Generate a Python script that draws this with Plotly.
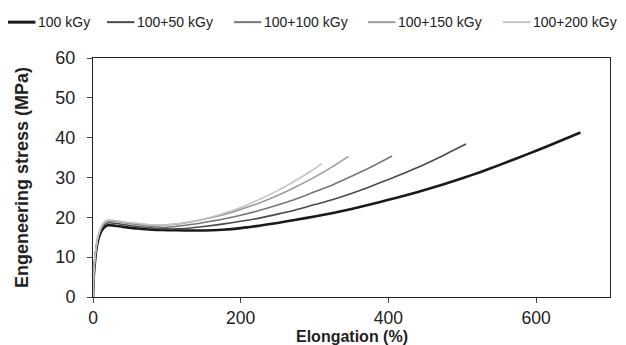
import plotly.graph_objects as go

# Elongation (%) and engineering stress (MPa)
x_100 = [0, 1, 3, 6, 10, 15, 20, 30, 40, 60, 80, 100, 125, 150, 175, 200, 225, 250, 275, 300,
         325, 350, 375, 400, 425, 450, 475, 500, 525, 550, 575, 600, 625, 660]
y_100 = [0, 5, 9.5, 13.5, 16.0, 17.4, 18.0, 17.9, 17.6, 17.2, 16.9, 16.8, 16.7, 16.7, 16.9, 17.3,
         17.9, 18.6, 19.4, 20.2, 21.1, 22.1, 23.2, 24.4, 25.6, 26.9, 28.3, 29.8, 31.4, 33.1,
         34.9, 36.7, 38.6, 41.3]

x_150 = [0, 1, 3, 6, 10, 15, 20, 30, 40, 60, 80, 100, 125, 150, 175, 200, 225, 250, 275, 300,
         325, 350, 375, 400, 425, 450, 475, 505]
y_150 = [0, 5.5, 10, 14, 16.5, 18.0, 18.6, 18.5, 18.2, 17.7, 17.3, 17.1, 17.2, 17.7, 18.3, 19.0,
         19.8, 20.8, 21.9, 23.2, 24.5, 26.0, 27.7, 29.5, 31.4, 33.4, 35.6, 38.4]

x_200 = [0, 1, 3, 6, 10, 15, 20, 30, 40, 60, 80, 100, 125, 150, 175, 200, 225, 250, 275, 300,
         325, 350, 375, 405]
y_200 = [0, 6, 10.5, 14.5, 17.0, 18.6, 19.1, 19.0, 18.7, 18.2, 17.7, 17.5, 18.0, 18.7, 19.5,
         20.5, 21.7, 23.1, 24.6, 26.4, 28.2, 30.3, 32.5, 35.4]

x_250 = [0, 1, 3, 6, 10, 15, 20, 30, 40, 60, 80, 100, 125, 150, 175, 200, 225, 250, 275, 300,
         325, 346]
y_250 = [0, 6, 10.5, 14.5, 17.0, 18.7, 19.2, 19.1, 18.8, 18.4, 18.0, 18.1, 18.6, 19.5, 20.6,
         22.0, 23.6, 25.5, 27.7, 30.1, 32.8, 35.3]

x_300 = [0, 1, 3, 6, 10, 15, 20, 30, 40, 60, 80, 100, 125, 150, 175, 200, 225, 250, 275, 300,
         310]
y_300 = [0, 6, 10.5, 14.5, 17.0, 18.8, 19.3, 19.2, 18.9, 18.5, 18.1, 18.1, 18.7, 19.6, 20.9,
         22.5, 24.5, 26.7, 29.3, 32.2, 33.5]

names = ["100 kGy", "100+50 kGy", "100+100 kGy", "100+150 kGy", "100+200 kGy"]
x_ticks = [0, 200, 400, 600]

xs = [x_100, x_150, x_200, x_250, x_300]
ys = [y_100, y_150, y_200, y_250, y_300]
colors = ["#1a1a1a", "#4a4a4a", "#777777", "#9c9c9c", "#c4c4c4"]
widths = [2.6, 1.6, 1.6, 1.6, 1.6]

fig = go.Figure()
for n, x, y, c, w in zip(names, xs, ys, colors, widths):
    fig.add_trace(go.Scatter(x=x, y=y, mode="lines", name=n, showlegend=False,
                             line=dict(color=c, width=w, shape="spline", smoothing=0.6)))

# legend drawn as line samples + text above the plot (paper coordinates)
leg_line_x0 = [-0.1644, 0.0271, 0.2727, 0.5319, 0.7930]
leg_line_len = 0.053
leg_text_gap = 0.002
leg_y = 1.15
for n, c, w, x0 in zip(names, colors, widths, leg_line_x0):
    fig.add_shape(type="line", xref="paper", yref="paper", x0=x0, x1=x0 + leg_line_len,
                  y0=leg_y, y1=leg_y, line=dict(color=c, width=w + 0.4))
    fig.add_annotation(xref="paper", yref="paper", x=x0 + leg_line_len + leg_text_gap, y=leg_y,
                       xanchor="left", yanchor="middle", text=n, showarrow=False,
                       font=dict(size=14, color="#222222"))

# x-axis title placed as text just under the tick labels
fig.add_annotation(xref="paper", yref="paper", x=0.5, y=-0.165, xanchor="center",
                   yanchor="middle", text="<b>Elongation (%)</b>", showarrow=False,
                   font=dict(size=16, color="#222222"))

font_fam = "Liberation Sans, Arial, sans-serif"
fig.update_layout(
    width=626, height=345,
    margin=dict(l=85, r=24, t=50, b=56, autoexpand=False),
    paper_bgcolor="white", plot_bgcolor="white",
    font=dict(family=font_fam, color="#222222"),
    showlegend=False,
    xaxis=dict(range=[0, 700], tickvals=x_ticks, ticks="outside", ticklen=5,
               showline=True, linecolor="#222222", linewidth=1, mirror=True, automargin=False,
               showgrid=False, zeroline=False, tickfont=dict(size=17.5), ticklabelstandoff=0),
    yaxis=dict(range=[0, 60], dtick=10, ticks="outside", ticklen=5, automargin=False,
               showline=True, linecolor="#222222", linewidth=1, mirror=True,
               showgrid=False, zeroline=False, tickfont=dict(size=18), ticklabelstandoff=8,
               title=dict(text="<b>Engeneering stress (MPa)</b>", font=dict(size=18), standoff=22)),
)

fig.write_html("out.html")
